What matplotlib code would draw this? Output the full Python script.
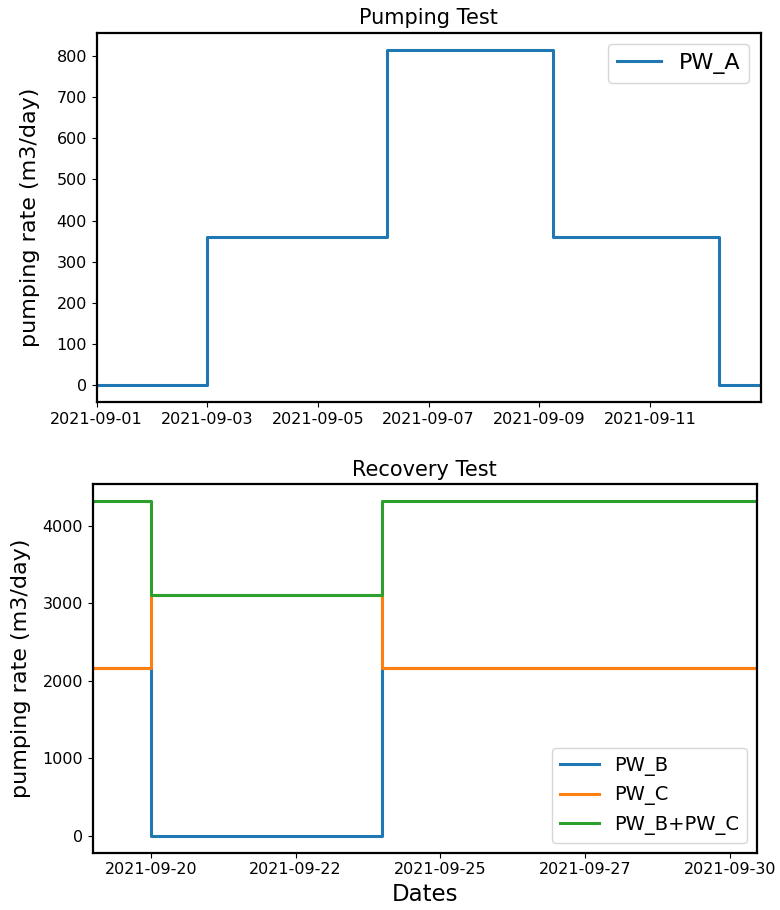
import pandas as pd
import matplotlib.pyplot as plt
import matplotlib.dates as mdates

# Pumping test (PW_A)
pw_a_times = pd.to_datetime(["2021-09-01 00:00", "2021-09-03 00:00", "2021-09-06 06:00",
                             "2021-09-09 06:00", "2021-09-12 06:00", "2021-09-13 00:00"])
pw_a_rate = [0, 360, 815, 360, 0, 0]

# Recovery test (PW_B, PW_C)
rec_times = pd.to_datetime(["2021-09-19 00:00", "2021-09-20 00:00", "2021-09-24 00:00",
                            "2021-09-30 11:00"])
pw_b_rate = [2160, 0, 2160, 2160]
pw_c_rate = [2160, 3110, 2160, 2160]
pw_sum_rate = [b + c for b, c in zip(pw_b_rate, pw_c_rate)]

rec_ticks = pd.to_datetime(["2021-09-20 00:00", "2021-09-22 12:00", "2021-09-25 00:00",
                            "2021-09-27 12:00", "2021-09-30 00:00"])
rec_ticklabels = ["2021-09-20", "2021-09-22", "2021-09-25", "2021-09-27", "2021-09-30"]

plt.rcParams['axes.linewidth'] = 1.6

fig = plt.figure(figsize=(7.8, 9.1), dpi=100)
ax1 = fig.add_axes([0.124, 0.558, 0.851, 0.406])
ax2 = fig.add_axes([0.119, 0.063, 0.851, 0.405])

ax1.plot(pw_a_times, pw_a_rate, drawstyle="steps-post", color="#1f77b4", lw=2.2, label="PW_A")
ax1.set_xlim(pw_a_times[0], pw_a_times[-1])
ax1.xaxis.set_major_locator(mdates.DayLocator(bymonthday=[1, 3, 5, 7, 9, 11]))
ax1.xaxis.set_major_formatter(mdates.DateFormatter("%Y-%m-%d"))
ax1.set_title("Pumping Test", fontsize=15)
ax1.set_ylabel("pumping rate (m3/day)", fontsize=16, labelpad=12)
ax1.tick_params(labelsize=11.5)
ax1.legend(loc="upper right", fontsize=16)

ax2.plot(rec_times, pw_b_rate, drawstyle="steps-post", lw=2.2, label="PW_B")
ax2.plot(rec_times, pw_c_rate, drawstyle="steps-post", lw=2.2, label="PW_C")
ax2.plot(rec_times, pw_sum_rate, drawstyle="steps-post", lw=2.2, label="PW_B+PW_C")
ax2.set_xlim(rec_times[0], rec_times[-1])
ax2.set_xticks(rec_ticks)
ax2.set_xticklabels(rec_ticklabels)
ax2.set_title("Recovery Test", fontsize=15)
ax2.set_ylabel("pumping rate (m3/day)", fontsize=16, labelpad=8)
ax2.set_xlabel("Dates", fontsize=16.5)
ax2.tick_params(labelsize=11.5)
ax2.legend(loc="lower right", fontsize=14)

plt.savefig("out.png")
